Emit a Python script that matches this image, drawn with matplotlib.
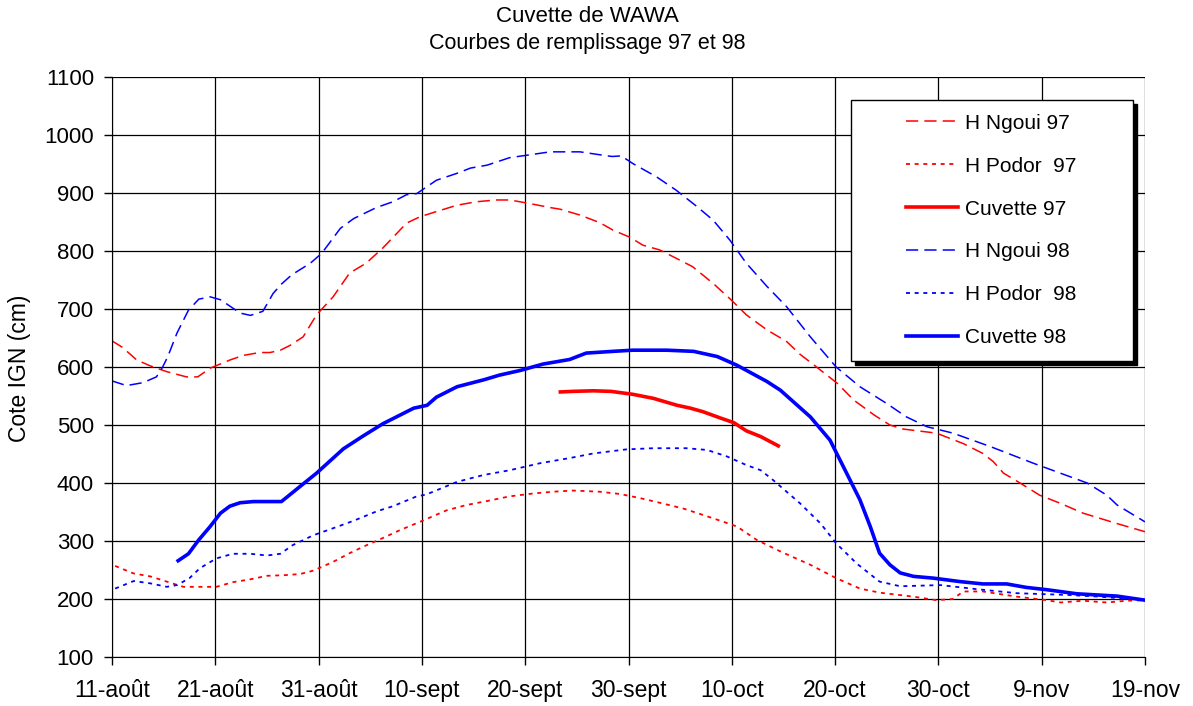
import numpy as np
import matplotlib.pyplot as plt
from matplotlib.legend_handler import HandlerLine2D

plt.rcParams['font.family'] = ['Liberation Sans', 'DejaVu Sans']

# jours depuis le 11 aout
tick_days = [0, 10, 20, 30, 40, 50, 60, 70, 80, 90, 100]
tick_labels = ['11-août', '21-août', '31-août', '10-sept', '20-sept', '30-sept',
               '10-oct', '20-oct', '30-oct', '9-nov', '19-nov']

ngoui97_j = [0, 1, 2.4, 3.7, 5.3, 7.2, 8.3, 9.5, 11.4, 12.7, 14.3, 15.3, 16.3, 17.2, 18.5,
             19.8, 21.4, 23, 24.6, 26.2, 27.6, 28.5, 29.8, 31.4, 33.4, 35.3, 37.2, 38.5,
             40.1, 42.4, 43.4, 45.3, 47.2, 48.5, 50.1, 51.4, 53, 55, 56.2, 58.2, 59.8, 61.4,
             63.4, 65.3, 66.6, 68.2, 70.2, 71.8, 73.8, 75.3, 76.6, 79.8, 82.4, 84.3, 85.3,
             86.3, 87.9, 89.8, 91.8, 94, 97.3, 100]
ngoui97 = [645, 634, 612, 602, 592, 583, 583, 598, 612, 620, 625, 625, 629, 637, 652,
           690, 721, 762, 779, 805, 831, 848, 859, 868, 879, 885, 888, 888,
           883, 875, 872, 862, 849, 836, 824, 810, 802, 784, 773, 744, 718, 690,
           664, 644, 622, 600, 572, 543, 517, 500, 493, 486, 468, 451, 437,
           417, 400, 379, 365, 348, 330, 316]

podor97_j = [0.3, 2.1, 3.7, 5.3, 6.9, 8.5, 10.1, 11.7, 13.4, 15, 16.6, 18.2, 19.5, 21.4, 23,
             24.3, 26.2, 27.9, 29.8, 32.4, 34.3, 36.6, 38.5, 40.8, 42.7, 44.6, 47.2, 49.2,
             51.1, 53, 55.3, 57.2, 59.2, 60.5, 62.4, 64.7, 67.6, 70.1, 72.4, 74.3, 77.6,
             79.8, 81.4, 82.4, 84.3, 87.6, 90.5, 91.8, 94, 96.3, 98.2, 100]
podor97 = [257, 244, 239, 230, 221, 221, 221, 229, 234, 240, 241, 243, 249, 264, 279,
           290, 305, 319, 333, 353, 362, 370, 377, 382, 385, 387, 385, 381,
           374, 366, 356, 345, 333, 325, 302, 282, 259, 236, 218, 211, 204,
           198, 200, 213, 213, 204, 198, 194, 197, 194, 197, 198]

cuv97_j = [43.4, 44.6, 46.6, 48.3, 50.4, 52.4, 54.7, 56, 57.2, 58.9, 60.2, 61.4, 62.8, 64.5]
cuv97 = [557, 558, 559, 558, 553, 546, 534, 529, 523, 512, 504, 490, 480, 464]

ngoui98_j = [0, 1.4, 3, 4.3, 4.9, 5.4, 6.3, 7.4, 8.4, 9.5, 10.5, 12.4, 13.4, 14.6, 15.6,
             16.4, 17.4, 19.2, 20.3, 22.1, 23.4, 25.6, 27.2, 28.5, 29.5, 31.4, 33.4, 34.7,
             36.3, 38.5, 40.5, 42.4, 45.3, 47.2, 48.4, 49.3, 50.4, 52.7, 54.6, 56.6, 58.2,
             59.8, 61.4, 63.4, 65.3, 67.6, 70.1, 72.4, 75, 76.9, 78.9, 81.4, 85, 89.2,
             91.8, 94.4, 96.3, 97.3, 100]
ngoui98 = [576, 568, 573, 583, 600, 618, 659, 698, 717, 721, 716, 693, 689, 696, 727,
           743, 759, 779, 796, 839, 856, 875, 885, 897, 899, 922, 934, 943,
           948, 961, 966, 971, 971, 966, 963, 964, 951, 928, 905, 877, 853,
           819, 779, 739, 704, 652, 600, 566, 537, 514, 497, 486, 463, 434,
           417, 400, 379, 362, 333]

podor98_j = [0.3, 2.1, 3.7, 5.3, 6.3, 7.5, 8.5, 10.1, 11.7, 13.4, 15, 16.3, 17.5, 19.5,
             21.4, 23.4, 25.6, 27.2, 29.5, 30.4, 33.4, 36, 38.5, 41.4, 44.3, 46.6, 49.8,
             52.4, 55.6, 57.6, 59.5, 61.4, 62.8, 64, 66.6, 68.6, 70.1, 72.1, 74.3, 76.3,
             80.2, 83.7, 87.6, 92.5, 95.6, 100]
podor98 = [218, 231, 227, 221, 224, 236, 253, 270, 278, 278, 275, 278, 293, 310,
           322, 335, 351, 360, 377, 380, 402, 414, 422, 434, 443, 451, 458,
           460, 460, 457, 446, 431, 422, 405, 365, 330, 296, 261, 230, 222,
           224, 217, 210, 207, 204, 198]

cuv98_j = [6.4, 7.4, 8.4, 9.5, 10.5, 11.4, 12.4, 13.7, 16.4, 18.2, 19.8, 22.4, 24.3, 26.2,
           29.2, 30.5, 31.4, 33.4, 36, 37.5, 39.5, 41.7, 44.3, 45.9, 48.5, 50.4, 53.7,
           56.3, 58.6, 60.5, 63.4, 64.7, 67.6, 69.5, 70.8, 72.4, 73.4, 74.3, 75.3, 76.3,
           77.6, 79.5, 82.1, 84.3, 86.6, 88.5, 90.5, 93.4, 97.3, 100]
cuv98 = [266, 278, 302, 325, 348, 360, 366, 368, 368, 394, 417, 459, 481, 502,
         529, 534, 548, 566, 578, 586, 594, 605, 613, 624, 627, 629, 629,
         627, 618, 603, 575, 560, 514, 474, 428, 371, 325, 279, 259, 245,
         239, 236, 230, 226, 226, 220, 216, 209, 205, 198]


class HandleRight(HandlerLine2D):
    # trace le segment de legende seulement sur la partie droite de la case
    def create_artists(self, *args, **kwargs):
        arts = super().create_artists(*args, **kwargs)
        xd = np.asarray(arts[0].get_xdata(), float)
        yd = np.asarray(arts[0].get_ydata(), float)
        arts[0].set_data([xd[0] + (xd[-1] - xd[0]) * 0.44, xd[-1]], [yd[0], yd[0]])
        return arts


fig = plt.figure(figsize=(11.93, 7.06), dpi=100)
ax = fig.add_axes([0.0939, 0.0694, 0.8659, 0.8215])

dash = (0, (8, 4))
dot = (0, (2.2, 2.6))
ax.plot(ngoui97_j, ngoui97, color='#ff0000', lw=1.1, linestyle=dash, label='H Ngoui 97')
ax.plot(podor97_j, podor97, color='#ff0000', lw=1.3, linestyle=dot, label='H Podor  97')
ax.plot(cuv97_j, cuv97, color='#ff0000', lw=2.6, label='Cuvette 97')
ax.plot(ngoui98_j, ngoui98, color='#0000ff', lw=1.1, linestyle=dash, label='H Ngoui 98')
ax.plot(podor98_j, podor98, color='#0000ff', lw=1.3, linestyle=dot, label='H Podor  98')
ax.plot(cuv98_j, cuv98, color='#0000ff', lw=2.6, label='Cuvette 98')

ax.set_xlim(0, 100)
ax.set_ylim(100, 1100)
ax.set_xticks(tick_days)
ax.set_xticklabels(tick_labels, fontsize=16.5)
ax.set_yticks(np.arange(100, 1101, 100))
ax.tick_params(axis='y', labelsize=16, length=6, width=1, pad=7)
ax.tick_params(axis='x', length=6, width=1, pad=10)
ax.grid(True, color='black', lw=0.9)
ax.set_axisbelow(True)
for s in ax.spines.values():
    s.set_visible(False)
ax.spines['left'].set_visible(True)
ax.spines['bottom'].set_visible(True)
ax.set_ylabel('Cote IGN (cm)', fontsize=16.5)
ax.yaxis.set_label_coords(-0.078, 0.497)

fig.text(0.492, 0.976, 'Cuvette de WAWA', ha='center', va='center', fontsize=16)
fig.text(0.492, 0.938, 'Courbes de remplissage 97 et 98', ha='center', va='center', fontsize=15.5)

leg = ax.legend(loc='upper left', bbox_to_anchor=(0.7154, 0.5, 0.273, 0.4603), mode='expand',
                borderaxespad=0, fontsize=15, handlelength=4.5, handletextpad=0.33,
                labelspacing=1.15, borderpad=0.65, fancybox=False, framealpha=1,
                edgecolor='black', shadow={'color': 'black', 'alpha': 1, 'ox': 3, 'oy': -3},
                handler_map={plt.Line2D: HandleRight()})
leg.get_frame().set_linewidth(1)

fig.savefig('out.png', dpi=100)
